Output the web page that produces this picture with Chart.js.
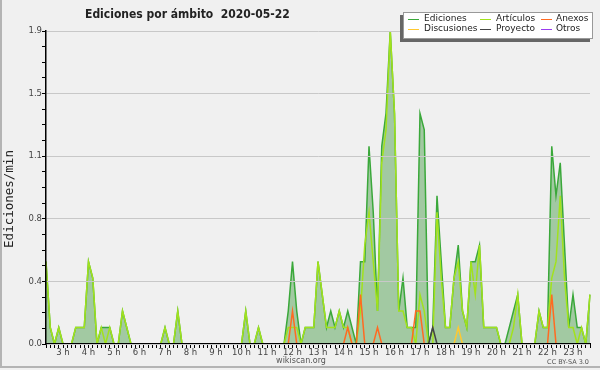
<!DOCTYPE html>
<html>
<head>
<meta charset="utf-8">
<script src="https://cdn.jsdelivr.net/npm/chart.js@4/dist/chart.umd.min.js"></script>
<style>
  body { margin: 0; background: #f0f0f0; }
  canvas { display: block; }
</style>
</head>
<body>
<canvas id="grafico" width="600" height="370"></canvas>
<script>
// datos del grafico (ediciones/min, intervalos de 10 min desde las 2:20)
const inicioMin = 2 * 60 + 20;
const pasoMin = 10;

const ediciones = [
  0.5, 0.1, 0, 0.1, 0, 0, 0, 0.1, 0.1, 0.1,
  0.5, 0.4, 0, 0.1, 0.1, 0.1, 0, 0, 0.2, 0.1,
  0, 0, 0, 0, 0, 0, 0, 0, 0.1, 0,
  0, 0.2, 0, 0, 0, 0, 0, 0, 0, 0,
  0, 0, 0, 0, 0, 0, 0, 0.2, 0, 0,
  0.1, 0, 0, 0, 0, 0, 0, 0.2, 0.5, 0.2,
  0, 0.1, 0.1, 0.1, 0.5, 0.3, 0.1, 0.2, 0.1, 0.2,
  0.1, 0.2, 0.1, 0, 0.5, 0.5, 1.2, 0.8, 0.2, 1.2,
  1.4, 1.9, 1.4, 0.2, 0.4, 0.1, 0.1, 0.1, 1.4, 1.3,
  0, 0.1, 0.9, 0.5, 0.1, 0.1, 0.4, 0.6, 0.2, 0.1,
  0.5, 0.5, 0.6, 0.1, 0.1, 0.1, 0.1, 0, 0, 0.1,
  0.2, 0.3, 0, 0, 0, 0, 0.2, 0.1, 0.1, 1.2,
  0.9, 1.1, 0.6, 0.1, 0.3, 0.1, 0.1, 0, 0.3
];

const articulos = [
  0.5, 0.1, 0, 0.1, 0, 0, 0, 0.1, 0.1, 0.1,
  0.5, 0.4, 0, 0.1, 0, 0.1, 0, 0, 0.2, 0.1,
  0, 0, 0, 0, 0, 0, 0, 0, 0.1, 0,
  0, 0.2, 0, 0, 0, 0, 0, 0, 0, 0,
  0, 0, 0, 0, 0, 0, 0, 0.2, 0, 0,
  0.1, 0, 0, 0, 0, 0, 0, 0.1, 0.1, 0.1,
  0, 0.1, 0.1, 0.1, 0.5, 0.3, 0.1, 0.1, 0.1, 0.2,
  0.1, 0.1, 0, 0, 0.2, 0.6, 0.8, 0.5, 0.2, 1.1,
  1.3, 1.9, 1.4, 0.2, 0.2, 0.1, 0.1, 0, 0.3, 0.2,
  0, 0, 0.8, 0.4, 0.1, 0.1, 0.4, 0.5, 0.2, 0.1,
  0.5, 0.3, 0.6, 0.1, 0.1, 0.1, 0.1, 0, 0, 0,
  0.1, 0.3, 0, 0, 0, 0, 0.2, 0.1, 0.1, 0.4,
  0.5, 0.9, 0.4, 0.1, 0.1, 0, 0.1, 0, 0.3
];

const anexos = [
  0, 0, 0, 0, 0, 0, 0, 0, 0, 0,
  0, 0, 0, 0, 0, 0, 0, 0, 0, 0,
  0, 0, 0, 0, 0, 0, 0, 0, 0, 0,
  0, 0, 0, 0, 0, 0, 0, 0, 0, 0,
  0, 0, 0, 0, 0, 0, 0, 0, 0, 0,
  0, 0, 0, 0, 0, 0, 0, 0, 0.2, 0,
  0, 0, 0, 0, 0, 0, 0, 0, 0, 0,
  0, 0.1, 0, 0, 0.3, 0, 0, 0, 0.1, 0,
  0, 0, 0, 0, 0, 0, 0, 0.2, 0.2, 0,
  0, 0, 0, 0, 0, 0, 0, 0, 0, 0,
  0, 0, 0, 0, 0, 0, 0, 0, 0, 0,
  0, 0, 0, 0, 0, 0, 0, 0, 0, 0.3,
  0, 0, 0, 0, 0, 0, 0, 0, 0
];

const discusiones = [
  0, 0, 0, 0, 0, 0, 0, 0, 0, 0,
  0, 0, 0, 0, 0, 0, 0, 0, 0, 0,
  0, 0, 0, 0, 0, 0, 0, 0, 0, 0,
  0, 0, 0, 0, 0, 0, 0, 0, 0, 0,
  0, 0, 0, 0, 0, 0, 0, 0, 0, 0,
  0, 0, 0, 0, 0, 0, 0, 0, 0, 0,
  0, 0, 0, 0, 0, 0, 0, 0, 0, 0,
  0, 0, 0, 0, 0, 0, 0, 0, 0, 0,
  0, 0, 0, 0, 0, 0, 0, 0, 0, 0,
  0, 0, 0, 0, 0, 0, 0, 0.1, 0, 0,
  0, 0, 0, 0, 0, 0, 0, 0, 0, 0,
  0, 0, 0, 0, 0, 0, 0, 0, 0, 0,
  0, 0, 0, 0, 0, 0, 0, 0, 0
];

const proyecto = [
  0, 0, 0, 0, 0, 0, 0, 0, 0, 0,
  0, 0, 0, 0, 0, 0, 0, 0, 0, 0,
  0, 0, 0, 0, 0, 0, 0, 0, 0, 0,
  0, 0, 0, 0, 0, 0, 0, 0, 0, 0,
  0, 0, 0, 0, 0, 0, 0, 0, 0, 0,
  0, 0, 0, 0, 0, 0, 0, 0, 0, 0,
  0, 0, 0, 0, 0, 0, 0, 0, 0, 0,
  0, 0, 0, 0, 0, 0, 0, 0, 0, 0,
  0, 0, 0, 0, 0, 0, 0, 0, 0, 0,
  0, 0.1, 0, 0, 0, 0, 0, 0, 0, 0,
  0, 0, 0, 0, 0, 0, 0, 0, 0, 0,
  0, 0, 0, 0, 0, 0, 0, 0, 0, 0,
  0, 0, 0, 0, 0, 0, 0, 0, 0
];

const otros = new Array(ediciones.length).fill(0);

// escala y: 0 a 1.9 en 20 pasos, etiqueta cada 4
const yMax = 1.9;
const yTicks = Array.from({ length: 21 }, (_, i) => (yMax * i) / 20);

// etiquetas de tiempo
const horas = ediciones.map((_, i) => {
  const t = inicioMin + i * pasoMin;
  return Math.floor(t / 60) + ":" + String(t % 60).padStart(2, "0");
});

const titulo = "Ediciones por ámbito  2020-05-22";
const tituloY = "Ediciones/min";

const series = [
  { label: "Ediciones", data: ediciones, color: "#3aa83a", order: 3 },
  { label: "Artículos", data: articulos, color: "#a2e21c", order: 2 },
  { label: "Anexos", data: anexos, color: "#ff6a22", order: 1 },
  { label: "Discusiones", data: discusiones, color: "#ffc830", order: 1 },
  { label: "Proyecto", data: proyecto, color: "#444444", order: 1 },
  { label: "Otros", data: otros, color: "#9a3cf0", order: 1 },
];

// textos, leyenda y marco
const decoracion = {
  id: "decoracion",
  beforeDraw(chart) {
    const ctx = chart.ctx;
    ctx.save();
    ctx.fillStyle = "#f0f0f0";
    ctx.fillRect(0, 0, chart.width, chart.height);
    // marco izquierdo e inferior
    ctx.strokeStyle = "#b4b4b4";
    ctx.lineWidth = 2;
    ctx.beginPath();
    ctx.moveTo(1, 0);
    ctx.lineTo(1, chart.height - 3);
    ctx.lineTo(chart.width, chart.height - 3);
    ctx.stroke();
    ctx.restore();
  },
  afterDraw(chart) {
    const ctx = chart.ctx;
    ctx.save();
    // titulo
    ctx.fillStyle = "#222";
    ctx.font = "bold 12px 'DejaVu Sans Condensed', 'DejaVu Sans'";
    ctx.textAlign = "left";
    ctx.textBaseline = "middle";
    ctx.fillText(titulo, 85, 15);

    // titulo eje y
    ctx.save();
    ctx.translate(10, 199);
    ctx.rotate(-Math.PI / 2);
    ctx.textAlign = "center";
    ctx.font = "12.5px 'DejaVu Sans Mono'";
    ctx.fillText(tituloY, 0, 0);
    ctx.restore();

    // pie
    ctx.fillStyle = "#555";
    ctx.font = "8px 'DejaVu Sans'";
    ctx.textAlign = "center";
    ctx.fillText("wikiscan.org", 301, 361);
    ctx.font = "6.5px 'DejaVu Sans'";
    ctx.textAlign = "right";
    ctx.fillText("CC BY-SA 3.0", 589, 362);

    // leyenda
    const lx = 403, ly = 12, lw = 190, lh = 27;
    ctx.fillStyle = "#666";
    ctx.fillRect(lx - 3, ly + 3, lw, lh);
    ctx.fillStyle = "#fff";
    ctx.fillRect(lx, ly, lw, lh);
    ctx.strokeStyle = "#999";
    ctx.lineWidth = 1;
    ctx.strokeRect(lx + 0.5, ly + 0.5, lw - 1, lh - 1);
    const colX = [[408, 424], [480, 496], [541, 556]];
    const filaY = [19, 29];
    ctx.font = "9px 'DejaVu Sans'";
    ctx.textAlign = "left";
    chart.data.datasets.forEach((ds, i) => {
      const c = colX[i % 3];
      const y = filaY[Math.floor(i / 3)];
      ctx.strokeStyle = ds.borderColor;
      ctx.lineWidth = 1;
      ctx.beginPath();
      ctx.moveTo(c[0], y + 0.5);
      ctx.lineTo(c[0] + 11, y + 0.5);
      ctx.stroke();
      ctx.fillStyle = "#222";
      ctx.fillText(ds.label, c[1], y);
    });
    ctx.restore();
  },
};

const canvas = document.getElementById("grafico");

new Chart(canvas, {
  type: "line",
  data: {
    labels: horas,
    datasets: series.map((s, i) => ({
      label: s.label,
      data: s.data,
      borderColor: s.color,
      backgroundColor: i === 0 ? "rgba(110,175,110,0.6)" : s.color,
      borderWidth: 1.5,
      fill: i === 0 ? "origin" : false,
      pointRadius: 0,
      tension: 0,
      order: s.order,
    })),
  },
  options: {
    responsive: false,
    animation: false,
    layout: { padding: { top: 31, right: 10, left: 0, bottom: 0 } },
    plugins: {
      legend: { display: false },
      tooltip: { enabled: false },
    },
    scales: {
      x: {
        afterFit: (s) => { s.height = 26; },
        grid: {
          drawOnChartArea: false,
          tickLength: 4,
          tickColor: "#000",
        },
        border: { color: "#000", width: 2, z: 1 },
        ticks: {
          autoSkip: false,
          maxRotation: 0,
          padding: 0,
          color: "#444",
          font: { family: "DejaVu Sans", size: 8.5 },
          callback: function (v, i) {
            const t = inicioMin + i * pasoMin;
            return t % 60 === 0 ? t / 60 + " h" : "";
          },
        },
      },
      y: {
        min: 0,
        max: yMax,
        afterFit: (s) => { s.width = 46; },
        afterBuildTicks: (s) => { s.ticks = yTicks.map((v) => ({ value: v })); },
        grid: {
          z: 1,
          tickLength: 4,
          tickColor: "#000",
          color: (c) => (c.index % 4 === 0 ? "#c8c8c8" : "rgba(0,0,0,0)"),
        },
        border: { color: "#000", width: 1.5, z: 1 },
        ticks: {
          padding: 0,
          color: "#444",
          font: { family: "DejaVu Sans", size: 8.5 },
          callback: (v, i) => (i % 4 === 0 ? v.toFixed(1) : ""),
        },
      },
    },
  },
  plugins: [decoracion],
});
</script>
</body>
</html>
